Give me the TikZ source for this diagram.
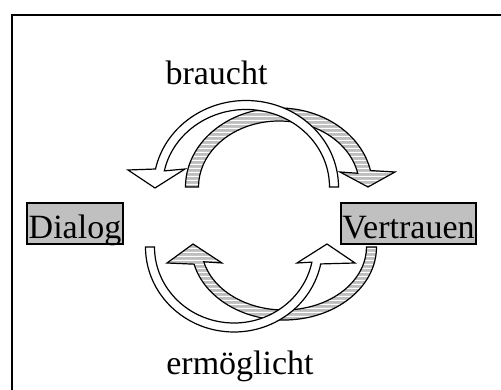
\documentclass[tikz,border=0pt]{standalone}
\usepackage{fontspec}
\setmainfont{Liberation Serif}
\usetikzlibrary{calc,patterns}
\definecolor{boxgray}{HTML}{C0C0C0}
\definecolor{hatchgray}{HTML}{BEBEBE}
% horizontal stripes, 4pt period, for the hatched arrows
\pgfdeclarepatternformonly{wideStripes}{\pgfqpoint{0pt}{0pt}}{\pgfqpoint{10pt}{4pt}}{\pgfqpoint{10pt}{4pt}}{%
  \pgfsetlinewidth{1.3pt}%
  \pgfpathmoveto{\pgfqpoint{-1pt}{2pt}}%
  \pgfpathlineto{\pgfqpoint{11pt}{2pt}}%
  \pgfusepath{stroke}}
\begin{document}
\begin{tikzpicture}[x=1pt,y=1pt,
  frameline/.style={line width=2pt},
  conceptbox/.style={draw, line width=1.6pt, fill=boxgray, inner xsep=1.5pt,
    inner ysep=1pt, text height=35pt, text depth=4pt, anchor=base,
    font=\fontsize{34}{40}\selectfont},
  caption/.style={anchor=base, inner sep=0pt, font=\fontsize{34}{40}\selectfont},
  band/.style={draw=black, line width=1.2pt, line join=miter},
  plainband/.style={band, fill=white},
  hatchband/.style={band, preaction={fill=hatchgray}, pattern=wideStripes,
    pattern color=white}]
\useasboundingbox (0,0) rectangle (501,390);

% frame: top and left edges only
\coordinate (frameBL) at (12,0);
\coordinate (frameTL) at (12,375);
\coordinate (frameTR) at (501,375);
\draw[frameline] (frameBL) -- (frameTL) -- (frameTR);

% concepts
\node[conceptbox] (dialog) at (75,151) {Dialog};
\node[conceptbox] (vertrauen) at (408.5,151) {Vertrauen};

% captions
\node[caption] (braucht) at (216.5,305) {braucht};
\node[caption] (ermoeglicht) at (240,15) {ermöglicht};

% upper cycle: hatched arc towards Vertrauen
\draw[hatchband]
  ($(279,203)+(180:93.5pt and 79pt)$)
  arc[start angle=180, end angle=12, x radius=93.5pt, y radius=79pt]
  -- (395,218) -- (368,203) -- (340,218)
  -- ($(279,203)+(12:80.5pt and 66pt)$)
  arc[start angle=12, end angle=180, x radius=80.5pt, y radius=66pt]
  -- cycle;

% upper cycle: plain arc towards Dialog
\draw[plainband]
  ($(246,203)+(0:92.5pt and 86.5pt)$)
  arc[start angle=0, end angle=168, x radius=92.5pt, y radius=86.5pt]
  -- (128,220) -- (155,202) -- (185,221)
  -- ($(246,203)+(168:83.5pt and 77.5pt)$)
  arc[start angle=168, end angle=0, x radius=83.5pt, y radius=77.5pt]
  -- cycle;

% lower cycle: hatched arc towards Dialog
\draw[hatchband]
  ($(284,143)+(360:92.5pt and 73pt)$)
  arc[start angle=360, end angle=193.6, x radius=92.5pt, y radius=73pt]
  -- (167,127) -- (193,146) -- (222,127)
  -- ($(284,143)+(193.6:82.5pt and 63pt)$)
  arc[start angle=193.6, end angle=360, x radius=82.5pt, y radius=63pt]
  -- cycle;

% lower cycle: plain arc towards Vertrauen
\draw[plainband]
  ($(234,143)+(180:88.5pt and 85pt)$)
  arc[start angle=180, end angle=348.5, x radius=88.5pt, y radius=85pt]
  -- (355,127) -- (327,146) -- (297,127)
  -- ($(234,143)+(348.5:79.5pt and 76pt)$)
  arc[start angle=348.5, end angle=180, x radius=79.5pt, y radius=76pt]
  -- cycle;
\end{tikzpicture}
\end{document}
